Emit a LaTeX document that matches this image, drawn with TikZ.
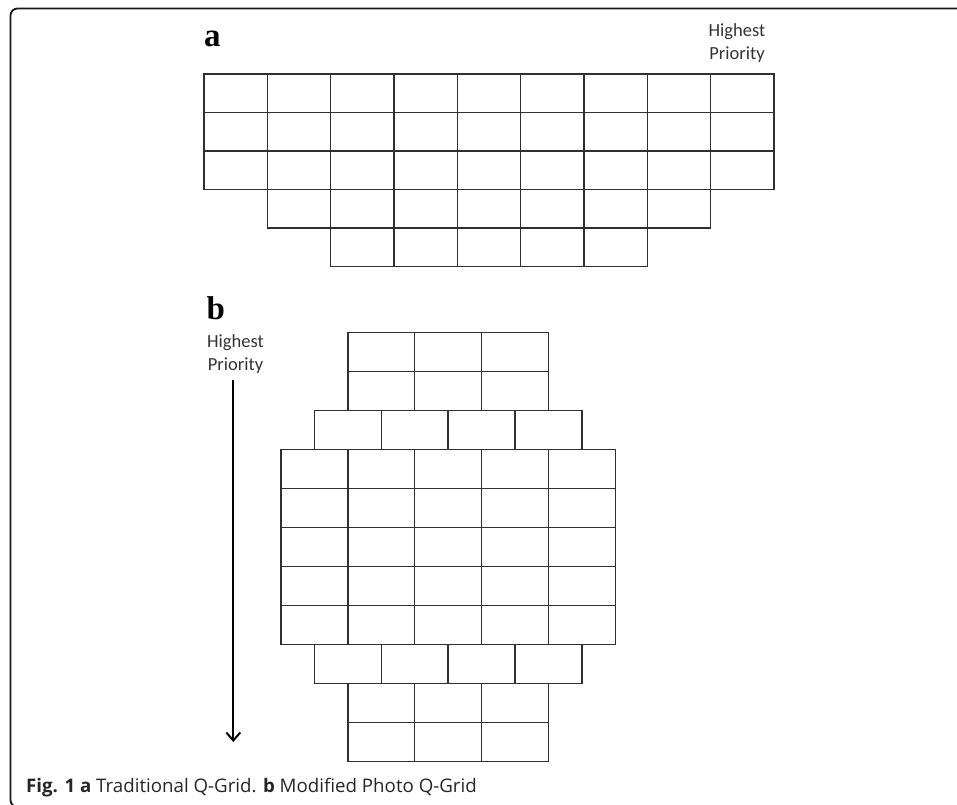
\documentclass[tikz,border=0pt]{standalone}
\usepackage{fontspec}
\usetikzlibrary{arrows.meta}
\newfontfamily\capfont{Open Sans}
\newfontfamily\labfont{Carlito}
\newfontfamily\letfont{Liberation Serif}
\definecolor{gridc}{HTML}{303030}
\definecolor{txtc}{HTML}{333333}
\tikzset{
  cellA/.style={draw=gridc, line width=1.4bp, minimum width=63.33bp, minimum height=38.5bp, inner sep=0pt, outer sep=0pt},
  cellB/.style={draw=gridc, line width=1.4bp, minimum width=66.87bp, minimum height=39bp, inner sep=0pt, outer sep=0pt},
  panel/.style={font=\letfont\bfseries\fontsize{33bp}{36bp}\selectfont, inner sep=0pt, anchor=base west},
  prio/.style={font=\labfont\fontsize{18.5bp}{23bp}\selectfont, text=txtc, align=center, inner sep=0pt, anchor=base},
  frame/.style={draw=black!90, line width=1.8bp, rounded corners=7bp},
  arr/.style={draw=black, line width=2bp, -{Straight Barb[length=8bp, width=14bp, line width=2bp]}}
}
\begin{document}
\begin{tikzpicture}[x=1bp, y=-1bp]
\useasboundingbox (0,0) rectangle (957,805);
% frame
\draw[frame] (40,807) -- (10.5,807) -- (10.5,8.5) -- (970,8.5);
% panel a
\node[panel] (la) at (204,47) {a};
\node[prio] (hpa) at (737,60) {Highest\\Priority};
\foreach \r/\c/\n in {0/0/9,1/0/9,2/0/9,3/1/7,4/2/5}{
  \foreach \k in {1,...,\n}{
    \node[cellA] (a-\r-\k) at ({204+63.33*(\c+\k-0.5)},{74+38.5*(\r+0.5)}) {};
  }
}
% panel b
\node[panel] (lb) at (206.5,319) {b};
\node[prio] (hpb) at (235.5,370) {Highest\\Priority};
\coordinate (arrS) at (233.3,380);
\coordinate (arrE) at (233.3,742);
\draw[arr] (arrS) -- (arrE);
\foreach \r/\c/\n in {0/1/3,1/1/3,2/0.5/4,3/0/5,4/0/5,5/0/5,6/0/5,7/0/5,8/0.5/4,9/1/3,10/1/3}{
  \foreach \k in {1,...,\n}{
    \node[cellB] (b-\r-\k) at ({281+66.87*(\c+\k-0.5)},{332.3+39*(\r+0.5)}) {};
  }
}
% caption
\node[font=\capfont\fontsize{18.7bp}{22bp}\selectfont, text=black!85, inner sep=0pt, anchor=base west] (cap) at (26,792.5)
  {\textbf{Fig. 1 a} Traditional Q-Grid. \textbf{b} Modified Photo Q-Grid};
\end{tikzpicture}
\end{document}
